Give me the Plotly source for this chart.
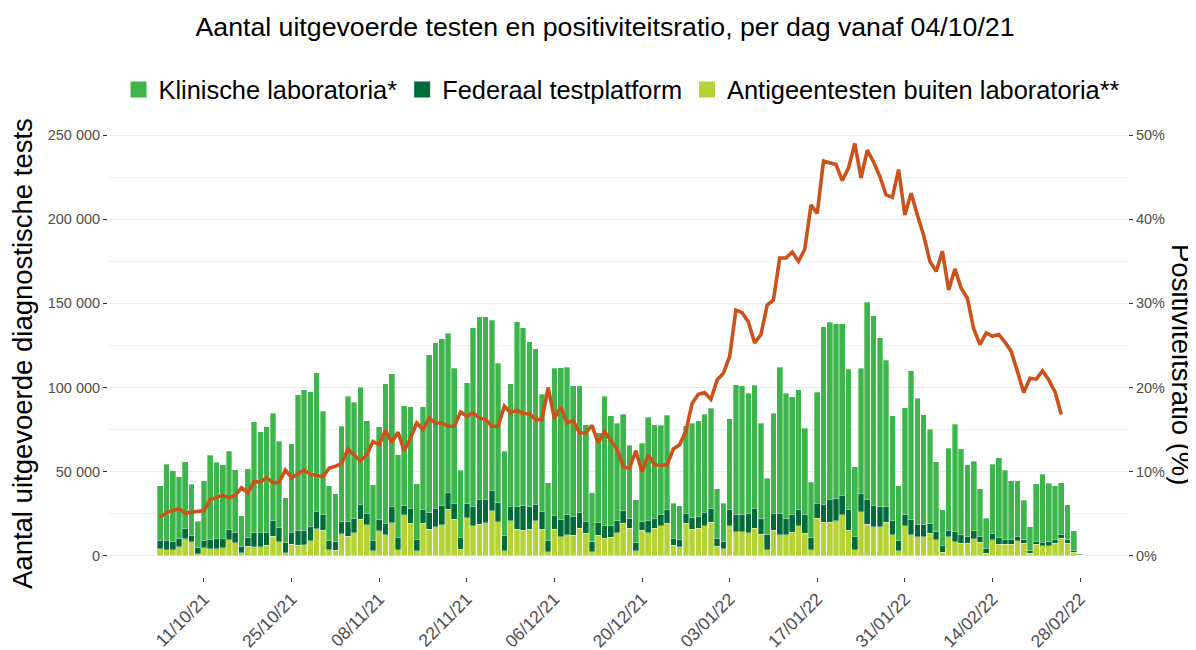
import pandas as pd
import plotly.graph_objects as go

start_date = "2021-10-04"
n_days = 148
dates = pd.date_range(start_date, periods=n_days, freq="D")

# Stack tops: total, top of dark segment, top of lime segment
total = [41580, 54450, 50500, 46900, 56000, 42600, 20600, 44700, 59800, 55600,
         54250, 62200, 51300, 23760, 51700, 79600, 73850, 76800, 84750, 68100,
         34650, 66700, 95800, 98800, 97400, 108700, 85900, 41600, 37000, 77000,
         95000, 91300, 100200, 80400, 42200, 76800, 102200, 108100, 60000, 89300,
         88700, 43000, 88700, 119400, 126700, 129100, 132300, 111500, 50900, 102800,
         135600, 142200, 142000, 140000, 114400, 62200, 102400, 139200, 135600, 127300,
         123000, 96000, 43400, 111500, 111800, 112100, 101000, 101200, 77800, 37600,
         73300, 94800, 83400, 78800, 84200, 65900, 33300, 66900, 82400, 77800,
         77600, 83600, 31300, 29900, 77400, 78800, 80400, 84300, 87700, 39800,
         31300, 81600, 101800, 101200, 96600, 101500, 78800, 46100, 84700, 112100,
         96600, 94600, 98600, 75800, 43800, 97200, 136200, 138800, 138000, 137800,
         110900, 53100, 111500, 150700, 142600, 129700, 116200, 83200, 41800, 88100,
         109900, 93700, 83800, 75200, 56000, 27300, 64000, 78200, 63600, 54100,
         56400, 39800, 22400, 54500, 58400, 50900, 44700, 44700, 33100, 17400,
         42800, 48500, 43200, 41800, 43600, 30300, 14900, 1000]
dark_top = [9300, 9300, 8300, 10300, 16200, 12300, 4750, 8900, 9900, 10300,
            10100, 15600, 13900, 5740, 10900, 13900, 13660, 13660, 20800, 17200,
            7700, 13660, 15250, 15250, 17600, 26700, 24500, 8900, 8700, 20600,
            20600, 22200, 30800, 25300, 9100, 21400, 19400, 29100, 11100, 29700,
            28300, 9900, 27700, 25700, 28300, 29700, 37600, 30900, 11100, 31300,
            29300, 33700, 33700, 38800, 31700, 11900, 29300, 29300, 29700, 29300,
            30700, 26300, 8900, 24000, 21400, 24400, 23400, 25700, 20400, 8500,
            19800, 18200, 18200, 20800, 26900, 22400, 7900, 20200, 21000, 22400,
            24400, 27300, 10300, 9500, 25300, 23000, 23400, 25900, 27900, 10500,
            8500, 27700, 24900, 24800, 25300, 27900, 22400, 12500, 25300, 25300,
            22000, 24400, 27300, 24400, 10900, 31300, 30700, 33700, 34300, 36200,
            27300, 11500, 37200, 33300, 29900, 29300, 29300, 20800, 8900, 24800,
            21400, 18800, 18800, 19400, 14500, 6100, 15400, 14500, 12500, 11500,
            14900, 11500, 4600, 13100, 10900, 9900, 9900, 11300, 9500, 3000,
            8500, 8100, 8500, 9500, 12500, 9500, 3000, 400]
antigeen = [4360, 3760, 3760, 5350, 10300, 8300, 1400, 4950, 4360, 4360,
            4750, 9700, 7700, 2000, 5740, 5350, 5350, 6300, 11700, 8300,
            1800, 6930, 6300, 6700, 8900, 16200, 15250, 3760, 3370, 13300,
            11700, 13660, 21800, 18400, 3200, 15000, 12500, 19800, 3600, 24400,
            19400, 3200, 19400, 15800, 17400, 18400, 27700, 21800, 4000, 22800,
            17800, 18800, 19800, 26900, 20400, 3200, 21000, 16000, 15400, 15800,
            20800, 15800, 2400, 15800, 11500, 12500, 12300, 16400, 13500, 2400,
            12300, 10500, 11100, 13900, 19400, 16400, 3000, 15400, 13900, 16400,
            17800, 19400, 6300, 5500, 19400, 15800, 16400, 18000, 20000, 5900,
            4400, 18000, 14500, 14500, 13900, 16400, 12900, 3600, 15400, 12500,
            12500, 14100, 18000, 13500, 3600, 22400, 20000, 20000, 20800, 24400,
            15400, 3600, 26300, 18800, 17400, 17400, 20000, 12500, 3000, 18000,
            12500, 11500, 11500, 13500, 9500, 2200, 11500, 8500, 7500, 7500,
            10100, 8100, 1600, 9500, 6900, 6900, 6900, 8900, 7500, 1600,
            6900, 6100, 6100, 7500, 10500, 7500, 2200, 300]
federaal = [d - a for d, a in zip(dark_top, antigeen)]
klinisch = [t - d for t, d in zip(total, dark_top)]

positiviteit = [4.6, 5.15, 5.4, 5.6, 5.1, 5.2, 5.2, 5.4, 6.7, 6.9,
                7.2, 6.9, 7.2, 8.1, 7.5, 8.8, 8.8, 9.3, 8.7, 8.75,
                10.2, 9.3, 9.7, 10.2, 9.7, 9.5, 9.4, 10.45, 10.65, 11.0,
                12.7, 12.0, 11.3, 12.0, 13.6, 13.2, 14.9, 13.5, 14.7, 12.5,
                14.0, 15.8, 15.0, 16.4, 15.8, 15.8, 15.4, 15.4, 17.1, 16.6,
                17.0, 16.4, 16.2, 15.4, 15.4, 17.8, 17.0, 17.3, 16.9, 16.9,
                16.2, 16.2, 20.0, 16.3, 17.7, 15.8, 16.1, 14.6, 14.6, 15.5,
                13.4, 14.8, 13.8, 12.7, 10.6, 10.4, 12.5, 10.0, 12.0, 10.8,
                10.8, 10.8, 12.7, 13.2, 14.8, 18.1, 19.2, 19.4, 18.6, 20.9,
                21.7, 23.7, 29.2, 28.9, 27.8, 25.3, 26.3, 29.8, 30.4, 35.4,
                35.4, 36.1, 35.0, 36.4, 41.7, 40.7, 46.9, 46.7, 46.5, 44.6,
                46.1, 49.0, 44.9, 48.2, 46.8, 45.1, 42.9, 42.6, 45.9, 40.5,
                43.1, 40.5, 38.1, 35.0, 33.8, 36.2, 31.6, 34.1, 31.8, 30.6,
                27.0, 25.1, 26.5, 26.1, 26.3, 25.4, 24.3, 21.9, 19.4, 21.1,
                21.0, 22.0, 20.9, 19.5, 16.8]

x_tick_dates = ["2021-10-11", "2021-10-25", "2021-11-08", "2021-11-22", "2021-12-06",
                "2021-12-20", "2022-01-03", "2022-01-17", "2022-01-31", "2022-02-14",
                "2022-02-28"]
x_tick_labels = ["11/10/21", "25/10/21", "08/11/21", "22/11/21", "06/12/21",
                 "20/12/21", "03/01/22", "17/01/22", "31/01/22", "14/02/22", "28/02/22"]
y_ticks = [0, 50000, 100000, 150000, 200000, 250000]
y2_ticks = [0, 10, 20, 30, 40, 50]
y2_labels = ["0%", "10%", "20%", "30%", "40%", "50%"]

names = ["Klinische laboratoria*", "Federaal testplatform", "Antigeentesten buiten laboratoria**"]
c_klin = "#3cb54b"
c_fed = "#006b39"
c_ag = "#b6d335"
c_line = "#cb531b"

font_family = "Liberation Sans, Arial, sans-serif"
edge = dict(color="rgba(255,255,255,0.55)", width=0.6)

# the page body adds an 8px margin; work in page pixels and convert
OFF = 8
FW, FH = 1196, 650
# plot area in page pixels
L, R, T, B = 108, 1128, 114, 577
W, H = R - L, B - T


def px_x(px):
    return (px - L) / W


def px_y(py):
    return (B - py) / H


fig = go.Figure()
fig.add_trace(go.Bar(x=dates, y=antigeen, marker=dict(color=c_ag, line=edge),
                     showlegend=False, name=names[2]))
fig.add_trace(go.Bar(x=dates, y=federaal, marker=dict(color=c_fed, line=edge),
                     showlegend=False, name=names[1]))
fig.add_trace(go.Bar(x=dates, y=klinisch, marker=dict(color=c_klin, line=edge),
                     showlegend=False, name=names[0]))
fig.add_trace(go.Scatter(x=dates[:len(positiviteit)], y=positiviteit, yaxis="y2",
                         mode="lines", line=dict(color=c_line, width=3.6),
                         showlegend=False, name="Positiviteitsratio"))
# legend entries
for nm, col in zip(names, [c_klin, c_fed, c_ag]):
    fig.add_trace(go.Scatter(x=[None], y=[None], mode="markers", name=nm,
                             marker=dict(symbol="square", size=16, color=col)))

fig.update_layout(
    width=FW, height=FH,
    barmode="stack", bargap=0.1,
    plot_bgcolor="white", paper_bgcolor="white",
    separators=", ",
    font=dict(family=font_family, color="#000000"),
    margin=dict(l=L - OFF, r=FW - (R - OFF), t=T - OFF, b=FH - (B - OFF), autoexpand=False),
    title=dict(text="Aantal uitgevoerde testen en positiviteitsratio, per dag vanaf 04/10/21",
               x=(605 - OFF) / FW, xanchor="center", y=1 - (27 - OFF) / FH, yanchor="middle",
               font=dict(size=26.7, color="#000000", family=font_family)),
    legend=dict(orientation="h", x=px_x(622), xanchor="center", xref="paper",
                y=px_y(90), yanchor="middle", font=dict(size=25.4, color="#000000"),
                traceorder="normal", itemwidth=30),
    xaxis=dict(range=["2021-09-25 15:50", "2022-03-07 15:50"], type="date",
               tickvals=x_tick_dates, ticktext=x_tick_labels,
               tickangle=-45, ticks="outside", ticklen=4, tickcolor="#333333",
               tickfont=dict(size=17.5, color="#4d4d4d"), showgrid=False,
               zeroline=False, showline=False, automargin=False),
    yaxis=dict(range=[-12500, 262500], tickvals=y_ticks,
               tickformat=",d", ticks="outside", ticklen=4, tickcolor="#333333",
               tickfont=dict(size=14.5, color="#4d4d4d"), showgrid=True,
               gridcolor="#ebebeb", gridwidth=1, zeroline=False, showline=False,
               automargin=False,
               minor=dict(dtick=25000, tick0=0, showgrid=True, gridcolor="#f2f2f2",
                          gridwidth=1)),
    yaxis2=dict(range=[-2.5, 52.5], overlaying="y", side="right",
                tickvals=y2_ticks, ticktext=y2_labels,
                ticks="outside", ticklen=4, tickcolor="#333333",
                tickfont=dict(size=14.5, color="#4d4d4d"), showgrid=False,
                zeroline=False, showline=False, automargin=False),
    annotations=[
        dict(text="Aantal uitgevoerde diagnostische tests", xref="paper", yref="paper",
             x=px_x(22), y=px_y(354), xanchor="center", yanchor="middle",
             textangle=-90, showarrow=False, font=dict(size=27.5, color="#000000")),
        dict(text="Positiviteitsratio (%)", xref="paper", yref="paper",
             x=px_x(1182), y=px_y(364), xanchor="center", yanchor="middle",
             textangle=90, showarrow=False, font=dict(size=27.5, color="#000000")),
    ],
)

fig.write_html("out.html")
